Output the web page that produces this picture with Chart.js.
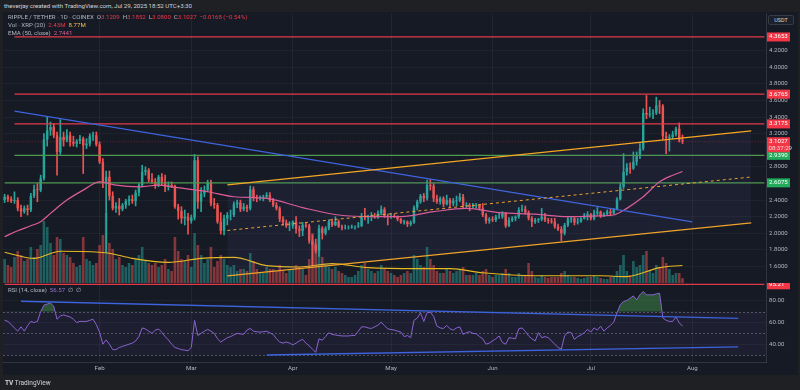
<!DOCTYPE html>
<html>
<head>
<meta charset="utf-8">
<script src="https://cdn.jsdelivr.net/npm/chart.js@4.4.1/dist/chart.umd.min.js"></script>
<style>
  body { margin: 0; width: 800px; height: 390px; overflow: hidden; background: #1f2024; font-family: Roboto, "Liberation Sans", sans-serif; }
  #panel { position: absolute; left: 3px; top: 12px; width: 795px; height: 363px; background: #161a25; }
  canvas { position: absolute; }
  .txt { position: absolute; font-size: 6.1px; color: #b2b5be; white-space: pre; z-index: 5; }
  .red { color: #f23645; }
  .yel { color: #f2c14e; }
  .pink { color: #e05c97; }
  .pur { color: #9575cd; }
  #usdt { position: absolute; left: 768px; top: 15px; width: 24px; height: 8px; border: 1px solid #363a45; border-radius: 2px; color: #d1d4dc; font-size: 5.5px; line-height: 8px; text-align: center; background: #1c202b; z-index: 5; }
</style>
</head>
<body>
<div class="txt" style="left:4px;top:2px;color:#d1d4dc;">theverjay created with TradingView.com, Jul 29, 2025 18:52 UTC+3:30</div>
<div id="panel"></div>
<canvas id="main" width="795" height="270" style="left:3px;top:13px;"></canvas>
<canvas id="rsi" width="795" height="91" style="left:3px;top:283px;"></canvas>
<div class="txt" style="left:8px;top:13px;">RIPPLE / TETHER · 1D · COINEX  O<span class="red">3.1209</span>  H<span class="red">3.1852</span>  L<span class="red">3.0800</span>  C<span class="red">3.1027  −0.0168 (−0.54%)</span></div>
<div class="txt" style="left:8px;top:21px;">Vol · XRP (20)  <span class="red">2.43M</span>  <span class="yel">8.77M</span></div>
<div class="txt" style="left:8px;top:29px;">EMA (50, close)  <span class="pink">2.7441</span></div>
<div class="txt" style="left:8px;top:286px;">RSI (14, close)  <span class="pur">56.57</span>  ∅  ∅</div>
<div id="usdt">USDT</div>
<div class="txt" style="left:5px;top:379px;color:#d1d4dc;font-size:6.5px;"><b>TV</b> TradingView</div>
<script>
// daily candles, 2025-01-03 .. 2025-07-29
const opens = [
  2.40,2.44,2.41,2.39,2.40,2.30,2.26,2.30,2.28,2.45,
  2.53,2.52,2.66,3.13,3.24,3.28,3.18,2.98,3.16,3.12,
  3.18,3.10,3.08,3.11,3.14,3.06,3.08,3.17,3.18,3.07,
  2.86,2.62,2.68,2.45,2.30,2.33,2.29,2.34,2.39,2.41,
  2.39,2.49,2.58,2.74,2.76,2.65,2.62,2.58,2.68,2.62,
  2.56,2.58,2.57,2.32,2.27,2.18,2.20,2.15,2.19,2.88,
  2.38,2.48,2.52,2.61,2.36,2.34,2.14,2.03,2.18,2.22,
  2.22,2.35,2.37,2.29,2.32,2.30,2.53,2.43,2.42,2.43,
  2.44,2.46,2.40,2.34,2.30,2.17,2.13,2.09,2.09,2.14,
  2.05,2.03,2.10,2.09,1.91,1.86,1.79,2.06,2.00,2.06,
  2.14,2.10,2.14,2.08,2.07,2.07,2.07,2.08,2.08,2.09,
  2.21,2.19,2.20,2.21,2.19,2.24,2.29,2.21,2.20,2.21,
  2.20,2.17,2.13,2.14,2.11,2.13,2.31,2.38,2.45,2.42,
  2.58,2.57,2.42,2.38,2.42,2.35,2.40,2.36,2.39,2.40,
  2.44,2.33,2.34,2.32,2.33,2.34,2.30,2.22,2.15,2.17,
  2.16,2.20,2.20,2.24,2.09,2.16,2.18,2.20,2.28,2.29,
  2.25,2.18,2.14,2.16,2.17,2.20,2.16,2.15,2.14,2.08,
  2.05,2.00,2.10,2.17,2.18,2.13,2.14,2.18,2.21,2.23,
  2.18,2.24,2.26,2.21,2.23,2.26,2.24,2.29,2.41,2.56,
  2.74,2.79,2.78,2.86,2.93,3.02,3.45,3.43,3.44,3.45,
  3.54,3.53,3.17,3.15,3.16,3.19,3.26,3.1209
];
const highs = [
  2.47,2.46,2.44,2.50,2.43,2.34,2.33,2.34,2.48,2.58,
  2.60,2.70,3.20,3.40,3.34,3.32,3.22,3.37,3.22,3.25,
  3.22,3.17,3.13,3.18,3.16,3.14,3.20,3.22,3.22,3.10,
  2.90,2.75,2.75,2.50,2.37,2.42,2.36,2.41,2.45,2.46,
  2.52,2.60,2.82,2.80,2.78,2.72,2.66,2.70,2.72,2.70,
  2.62,2.62,2.58,2.35,2.32,2.28,2.24,2.22,2.95,2.92,
  2.55,2.57,2.64,2.64,2.42,2.36,2.25,2.22,2.25,2.28,
  2.38,2.40,2.40,2.36,2.34,2.57,2.56,2.46,2.45,2.46,
  2.49,2.49,2.42,2.37,2.32,2.20,2.16,2.14,2.15,2.20,
  2.09,2.13,2.12,2.11,1.98,1.93,2.10,2.08,2.08,2.16,
  2.17,2.20,2.16,2.10,2.10,2.09,2.10,2.09,2.13,2.24,
  2.30,2.22,2.25,2.24,2.27,2.33,2.31,2.23,2.24,2.23,
  2.21,2.18,2.16,2.15,2.15,2.33,2.40,2.47,2.48,2.64,
  2.65,2.60,2.46,2.44,2.44,2.46,2.42,2.42,2.45,2.48,
  2.47,2.37,2.36,2.36,2.36,2.35,2.36,2.24,2.19,2.20,
  2.22,2.24,2.26,2.25,2.19,2.20,2.21,2.31,2.34,2.33,
  2.27,2.20,2.18,2.18,2.30,2.24,2.18,2.18,2.18,2.11,
  2.08,2.12,2.20,2.20,2.19,2.18,2.19,2.24,2.26,2.24,
  2.28,2.31,2.27,2.25,2.28,2.30,2.30,2.43,2.60,2.96,
  2.84,2.85,2.98,2.98,3.08,3.50,3.66,3.52,3.49,3.64,
  3.60,3.55,3.22,3.19,3.23,3.28,3.33,3.1852
];
const lows = [
  2.37,2.38,2.37,2.36,2.27,2.20,2.24,2.22,2.26,2.43,
  2.38,2.50,2.64,3.05,3.18,3.15,2.70,2.95,3.05,3.10,
  3.05,3.05,3.04,3.08,2.72,3.02,3.05,3.12,3.05,2.84,
  2.55,1.77,2.40,2.28,2.25,2.22,2.27,2.30,2.34,2.36,
  2.33,2.45,2.56,2.70,2.62,2.60,2.54,2.56,2.58,2.50,
  2.52,2.55,2.30,2.17,2.12,2.10,1.99,2.12,2.16,2.30,
  2.26,2.44,2.50,2.33,2.30,2.12,1.99,1.98,2.10,2.16,
  2.20,2.31,2.26,2.27,2.26,2.28,2.39,2.38,2.40,2.39,
  2.42,2.38,2.32,2.28,2.14,2.10,2.07,2.03,2.06,2.00,
  1.96,1.97,2.07,1.88,1.61,1.76,1.72,1.93,1.98,2.04,
  2.08,2.09,2.07,2.04,2.05,2.05,2.06,2.05,2.07,2.08,
  2.16,2.12,2.15,2.18,2.18,2.22,2.19,2.10,2.18,2.19,
  2.15,2.12,2.11,2.08,2.09,2.12,2.28,2.36,2.38,2.40,
  2.52,2.38,2.36,2.35,2.32,2.34,2.31,2.33,2.33,2.38,
  2.30,2.31,2.27,2.30,2.30,2.28,2.20,2.12,2.12,2.14,
  2.14,2.18,2.18,2.07,2.08,2.14,2.15,2.18,2.26,2.23,
  2.16,2.08,2.12,2.13,2.15,2.14,2.12,2.12,2.06,2.03,
  1.91,1.98,2.08,2.13,2.10,2.11,2.13,2.17,2.16,2.16,
  2.16,2.22,2.19,2.20,2.22,2.21,2.23,2.28,2.40,2.54,
  2.70,2.72,2.77,2.82,2.90,3.00,3.38,3.40,3.38,3.43,
  3.44,3.13,2.96,2.99,3.14,3.17,3.10,3.08
];
const closes = [
  2.44,2.41,2.39,2.40,2.30,2.26,2.30,2.28,2.45,2.53,
  2.52,2.66,3.13,3.24,3.28,3.18,2.98,3.16,3.12,3.18,
  3.10,3.08,3.11,3.14,3.06,3.08,3.17,3.18,3.07,2.86,
  2.62,2.68,2.45,2.30,2.33,2.29,2.34,2.39,2.41,2.39,
  2.49,2.58,2.74,2.76,2.65,2.62,2.58,2.68,2.62,2.56,
  2.58,2.57,2.32,2.27,2.18,2.20,2.15,2.19,2.88,2.38,
  2.48,2.52,2.61,2.36,2.34,2.14,2.03,2.18,2.22,2.22,
  2.35,2.37,2.29,2.32,2.30,2.53,2.43,2.42,2.43,2.44,
  2.46,2.40,2.34,2.30,2.17,2.13,2.09,2.09,2.14,2.05,
  2.03,2.10,2.09,1.91,1.86,1.79,2.06,2.00,2.06,2.14,
  2.10,2.14,2.08,2.07,2.07,2.07,2.08,2.08,2.09,2.21,
  2.19,2.20,2.21,2.19,2.24,2.29,2.21,2.20,2.21,2.20,
  2.17,2.13,2.14,2.11,2.13,2.31,2.38,2.45,2.42,2.58,
  2.57,2.42,2.38,2.42,2.35,2.40,2.36,2.39,2.40,2.44,
  2.33,2.34,2.32,2.33,2.34,2.30,2.22,2.15,2.17,2.16,
  2.20,2.20,2.24,2.09,2.16,2.18,2.20,2.28,2.29,2.25,
  2.18,2.14,2.16,2.17,2.20,2.16,2.15,2.14,2.08,2.05,
  2.00,2.10,2.17,2.18,2.13,2.14,2.18,2.21,2.23,2.18,
  2.24,2.26,2.21,2.23,2.26,2.24,2.29,2.41,2.56,2.74,
  2.79,2.78,2.86,2.93,3.02,3.45,3.43,3.44,3.45,3.54,
  3.53,3.17,3.15,3.16,3.19,3.26,3.1209,3.1027
];
// volume in millions of XRP
const volumes = [
  12,9,8,13,16,14,11,12,18,13,
  17,19,31,28,20,14,23,22,15,14,
  13,10,8,9,23,12,11,9,10,19,
  24,35,20,17,12,13,9,8,10,9,
  12,14,18,11,10,9,10,8,9,12,
  7,6,23,16,12,11,14,8,25,19,
  14,10,12,18,8,11,14,12,9,8,
  9,6,7,7,6,15,11,7,5,5,
  8,7,7,6,9,6,5,7,7,9,
  8,7,4,12,25,20,22,13,9,8,
  7,8,6,5,4,3,3,4,6,9,
  10,7,6,5,6,9,7,6,5,4,
  3,4,5,6,5,14,12,9,8,18,
  12,9,6,5,5,7,6,5,6,7,
  8,4,4,4,5,4,6,7,4,3,
  4,4,5,7,5,3,3,5,4,4,
  10,6,3,2.5,4,3,2.5,3,3,3,
  5,6,4,3,3,2.5,2,2.5,3,3,
  3.5,3,2.5,2,2,3,3.5,6,9,14,
  6,4,11,8,9,14,16,6,5,9,
  8,13,10,7,4,5,5,2.43
];
const rsiValues = [
  62,61,58,55,52,56,52,57,61,60,
  61,70,76,77,78,75,63,66,67,66,
  65,63,60,61,61,61,62,63,58,51,
  40,44,40,35,35,37,38,39,40,41,
  43,47,55,54,52,50,53,54,51,47,
  44,40,37,36,35,34.5,34,37,62,48,
  50,52,53.6,52,50,45,42,44,46,47,
  48.5,50,49.5,49,53,54.5,52,51.5,51.2,51.5,
  52,50.5,49,45,42,41,42,41,39.4,41,
  43,44.5,41,38.5,35.5,32.5,45,43.6,47,50.6,
  49,48.5,48,47.6,47.6,47.6,48,48,52,56,
  56,55,54.5,56,57.5,60.3,57,54.2,53.5,53,
  52,51.2,47,48,46,62,64,69,61,69,
  69.4,65.7,56.6,55,54.5,57.3,54.2,53,55,56,
  49,50.6,51.5,50,49.7,47,45,40,41,43,
  45,47.6,41.5,40,46,45.5,45,54.2,55,52,
  47.6,45,43,50.6,46,47,46,43,40,37,
  35.5,47.6,51.2,50.6,44.5,47,48.5,50.6,53.6,51.2,
  55,53,56.6,52,55,57.3,60.3,68.8,76.4,79.4,
  80.3,82.4,84.5,80.9,85.5,88.5,85.5,85.5,85.5,86.4,
  87,64.3,62,61,61,65,59.7,56.57
];

// EMA(50) and volume MA(20) at a few dates
const emaDates = ['2025-01-03','2025-01-07','2025-01-11','2025-01-14','2025-01-17','2025-01-22','2025-01-27','2025-02-01','2025-02-06','2025-02-13','2025-02-19','2025-02-23','2025-03-06','2025-03-14','2025-03-24','2025-04-04','2025-04-15','2025-04-26','2025-05-04','2025-05-14','2025-05-24','2025-06-03','2025-06-14','2025-06-24','2025-07-04','2025-07-08','2025-07-12','2025-07-17','2025-07-22','2025-07-26','2025-07-29'];
const emaValues = [1.96,2.03,2.09,2.14,2.24,2.40,2.52,2.62,2.58,2.56,2.58,2.56,2.50,2.44,2.42,2.31,2.22,2.20,2.20,2.26,2.30,2.25,2.23,2.20,2.21,2.22,2.30,2.44,2.62,2.70,2.7441];
const volMaDates = ['2025-01-03','2025-01-12','2025-01-20','2025-02-01','2025-02-04','2025-02-11','2025-02-22','2025-03-04','2025-03-14','2025-03-24','2025-04-03','2025-04-13','2025-04-24','2025-05-09','2025-05-19','2025-05-29','2025-06-14','2025-07-04','2025-07-12','2025-07-22','2025-07-29'];
const volMaValues = [15.4,12.3,15.9,15.4,14.9,12.3,10.3,12.3,12.8,8.7,8.0,9.7,7.7,7.2,7.2,5.1,3.6,3.6,3.2,7.7,8.77];

// drawings: [startDate, startValue, endDate, endValue]
const blueTrend = ['2025-01-06', 3.473, '2025-08-01', 2.137];
const channelTop = ['2025-03-12', 2.582, '2025-08-19', 3.233];
const channelMid = ['2025-03-12', 2.034, '2025-08-19', 2.678];
const channelLow = ['2025-03-12', 1.486, '2025-08-19', 2.125];
const rsiTrendTop = ['2025-01-08', 79.6, '2025-08-15', 63.8];
const rsiTrendLow = ['2025-03-24', 30, '2025-08-15', 37.5];
const redLevels = [4.3653, 3.6765, 3.3175];
const greenLevels = [2.9390, 2.6075];
const lastPrice = 3.1027;
const rsiMark = 95.21;

// axis tick labels
const monthNames = ['Jan','Feb','Mar','Apr','May','Jun','Jul','Aug'];
const priceTicks = [1.6, 1.8, 2.0, 2.2, 2.4, 2.8, 3.2, 3.4, 3.6, 3.8, 4.0, 4.2];
const rsiTicks = [40, 60, 80];

// date axis, one slot per day
const labels = [];
for (let i = 0; i < 233; i++) {
  labels.push(new Date(Date.UTC(2025, 0, 3 + i)).toISOString().slice(0, 10));
}

const UP = '#26a69a', DOWN = '#ef5350';
const AXIS_TEXT = '#b2b5be';

function pad(arr) { return labels.map((_, i) => i < arr.length ? arr[i] : null); }
function sparse(dates, values) {
  const out = labels.map(() => null);
  dates.forEach((d, k) => { const i = labels.indexOf(d); if (i >= 0) out[i] = values[k]; });
  return out;
}
function seg(d) { return sparse([d[0], d[2]], [d[1], d[3]]); }
function level(v, from) { return sparse([from || labels[0], labels[labels.length - 1]], [v, v]); }

const isUp = closes.map((c, i) => c >= opens[i]);
const bodies = labels.map((_, i) => i < closes.length ? [opens[i], closes[i]] : null);
const wicks = labels.map((_, i) => i < closes.length ? [lows[i], highs[i]] : null);
const candleColors = isUp.map(u => u ? UP : DOWN);
const volColors = isUp.map(u => u ? 'rgba(38,166,154,0.5)' : 'rgba(239,83,80,0.5)');

function lineDs(data, color, extra) {
  return Object.assign({ type: 'line', data, borderColor: color, borderWidth: 1.2, pointRadius: 0, spanGaps: true, fill: false, order: 1, yAxisID: 'y' }, extra || {});
}

function monthGrid(ctx) {
  const l = labels[ctx.index];
  return l && l.endsWith('-01') ? 'rgba(255,255,255,0.05)' : 'rgba(0,0,0,0)';
}

// keep the plot area flush with the canvas edges
function noPad(s) { s.paddingTop = 0; s.paddingBottom = 0; }
function fixedTicks(list) { return s => { s.ticks = list.map(v => ({ value: v })); }; }

function drawTag(ctx, area, y, bg, text, sub) {
  const x = area.right + 1, w = 23, h = sub ? 15 : 9;
  ctx.save();
  ctx.fillStyle = bg;
  ctx.fillRect(x, y - 4.5, w, h);
  ctx.fillStyle = '#ffffff';
  ctx.font = '6.1px Roboto';
  ctx.textBaseline = 'middle';
  ctx.textAlign = 'left';
  ctx.fillText(text, x + 2, y);
  if (sub) { ctx.fillStyle = 'rgba(255,255,255,0.8)'; ctx.fillText(sub, x + 1.5, y + 6.5); }
  ctx.restore();
}

const priceTags = {
  id: 'priceTags',
  afterDraw(chart) {
    const { ctx, chartArea, scales } = chart;
    redLevels.forEach(v => drawTag(ctx, chartArea, scales.y.getPixelForValue(v), '#f23645', v.toFixed(4)));
    greenLevels.forEach(v => drawTag(ctx, chartArea, scales.y.getPixelForValue(v), '#22ab5a', v.toFixed(4)));
    drawTag(ctx, chartArea, scales.y.getPixelForValue(lastPrice), '#f23645', lastPrice.toFixed(4), '08:37:29');
  }
};

new Chart(document.getElementById('main'), {
  type: 'bar',
  data: {
    labels,
    datasets: [
      lineDs(seg(channelTop), '#f5a623', { fill: '+2', backgroundColor: 'rgba(120,110,200,0.07)', borderWidth: 1.3 }),
      lineDs(seg(channelMid), '#f5a623', { borderDash: [3, 3], borderWidth: 1 }),
      lineDs(seg(channelLow), '#f5a623', { borderWidth: 1.3 }),
      lineDs(seg(blueTrend), '#3d63dd', { borderWidth: 1.3 }),
      ...redLevels.map(v => lineDs(level(v, '2025-01-06'), '#e03a4a', { borderWidth: 1.3, order: 2 })),
      lineDs(level(greenLevels[0], '2025-01-06'), '#4e9a4f', { borderWidth: 1.2, order: 2 }),
      lineDs(level(greenLevels[1]), '#4e9a4f', { borderWidth: 1.2, order: 2 }),
      lineDs(level(lastPrice), 'rgba(242,54,69,0.45)', { borderDash: [1, 2], borderWidth: 1, order: 2 }),
      lineDs(sparse(emaDates, emaValues), '#e05c97', { cubicInterpolationMode: 'monotone', borderWidth: 1.2 }),
      lineDs(sparse(volMaDates, volMaValues), '#e8b923', { yAxisID: 'yv', cubicInterpolationMode: 'monotone', borderWidth: 1.1 }),
      { type: 'bar', data: pad(volumes), backgroundColor: volColors, yAxisID: 'yv', grouped: false, barPercentage: 0.8, categoryPercentage: 1, order: 10 },
      { type: 'bar', data: wicks, backgroundColor: candleColors, yAxisID: 'y', grouped: false, barThickness: 1, order: 5 },
      { type: 'bar', data: bodies, backgroundColor: candleColors, yAxisID: 'y', grouped: false, barPercentage: 0.75, categoryPercentage: 1, order: 4 }
    ]
  },
  options: {
    responsive: false,
    animation: false,
    devicePixelRatio: 1,
    layout: { padding: 0 },
    plugins: { legend: { display: false }, tooltip: { enabled: false } },
    scales: {
      x: {
        offset: true,
        afterFit: s => { s.height = 0; s.paddingLeft = 0; s.paddingRight = 0; },
        grid: { color: monthGrid, offset: false, drawTicks: false },
        ticks: { display: false, autoSkip: false },
        border: { display: false }
      },
      y: {
        position: 'right',
        min: 1.401, max: 4.654,
        afterBuildTicks: fixedTicks(priceTicks),
        afterFit: s => { s.width = 32; noPad(s); },
        grid: { color: 'rgba(255,255,255,0.035)', drawTicks: false },
        border: { color: 'rgba(255,255,255,0.12)' },
        ticks: {
          autoSkip: false, padding: 3,
          color: AXIS_TEXT, font: { size: 6.1, family: 'Roboto' },
          callback: v => Number(v).toFixed(4)
        }
      },
      yv: { display: false, min: 0, max: 135 }
    }
  },
  plugins: [priceTags]
});

const rsiBand = {
  id: 'rsiBand',
  beforeDatasetsDraw(chart) {
    const { ctx, chartArea: a, scales } = chart;
    const y70 = scales.y.getPixelForValue(70), y50 = scales.y.getPixelForValue(50), y30 = scales.y.getPixelForValue(30);
    ctx.save();
    ctx.fillStyle = 'rgba(126,87,194,0.08)';
    ctx.fillRect(a.left, y70, a.right - a.left, y30 - y70);
    ctx.strokeStyle = 'rgba(150,153,165,0.45)';
    ctx.setLineDash([2, 2]);
    ctx.lineWidth = 1;
    [y70, y50, y30].forEach(y => { ctx.beginPath(); ctx.moveTo(a.left, Math.round(y) + 0.5); ctx.lineTo(a.right, Math.round(y) + 0.5); ctx.stroke(); });
    ctx.restore();
  },
  afterDraw(chart) {
    const { ctx, chartArea: a, scales } = chart;
    // axis values, placed through the RSI scale
    ctx.save();
    ctx.fillStyle = AXIS_TEXT;
    ctx.font = '6.1px Roboto';
    ctx.textBaseline = 'middle';
    ctx.textAlign = 'left';
    rsiTicks.forEach(v => ctx.fillText(v.toFixed(2), a.right + 3, scales.y.getPixelForValue(v)));
    ctx.restore();
    drawTag(ctx, a, scales.y.getPixelForValue(rsiMark) + 0.5, '#f23645', rsiMark.toFixed(2));
  }
};

new Chart(document.getElementById('rsi'), {
  type: 'line',
  data: {
    labels,
    datasets: [
      lineDs(level(rsiMark), '#e03a4a', { borderWidth: 1.3 }),
      lineDs(seg(rsiTrendTop), '#3d63dd', { borderWidth: 1.4 }),
      lineDs(seg(rsiTrendLow), '#3d63dd', { borderWidth: 1.4 }),
      lineDs(pad(rsiValues), '#8a63d2', { spanGaps: false, borderWidth: 1, fill: { target: { value: 70 }, above: 'rgba(76,175,80,0.4)', below: 'rgba(0,0,0,0)' } })
    ]
  },
  options: {
    responsive: false,
    animation: false,
    devicePixelRatio: 1,
    layout: { padding: 0 },
    plugins: { legend: { display: false }, tooltip: { enabled: false } },
    scales: {
      x: {
        offset: true,
        afterFit: s => { s.height = 12; s.paddingLeft = 0; s.paddingRight = 0; },
        grid: { color: monthGrid, offset: false, drawTicks: false },
        border: { color: 'rgba(255,255,255,0.12)' },
        ticks: {
          autoSkip: false, maxRotation: 0, padding: 3,
          color: AXIS_TEXT, font: { size: 6.1, family: 'Roboto' },
          callback(v) {
            const l = this.getLabelForValue(v);
            return l.endsWith('-01') ? monthNames[Number(l.slice(5, 7)) - 1] : '';
          }
        }
      },
      y: {
        position: 'right',
        min: 23.6, max: 96.4,
        afterBuildTicks: fixedTicks(rsiTicks),
        afterFit: s => { s.width = 32; noPad(s); },
        grid: { color: 'rgba(255,255,255,0.035)', drawTicks: false },
        border: { color: 'rgba(255,255,255,0.12)' },
        ticks: { display: false }
      }
    }
  },
  plugins: [rsiBand]
});
</script>
</body>
</html>
